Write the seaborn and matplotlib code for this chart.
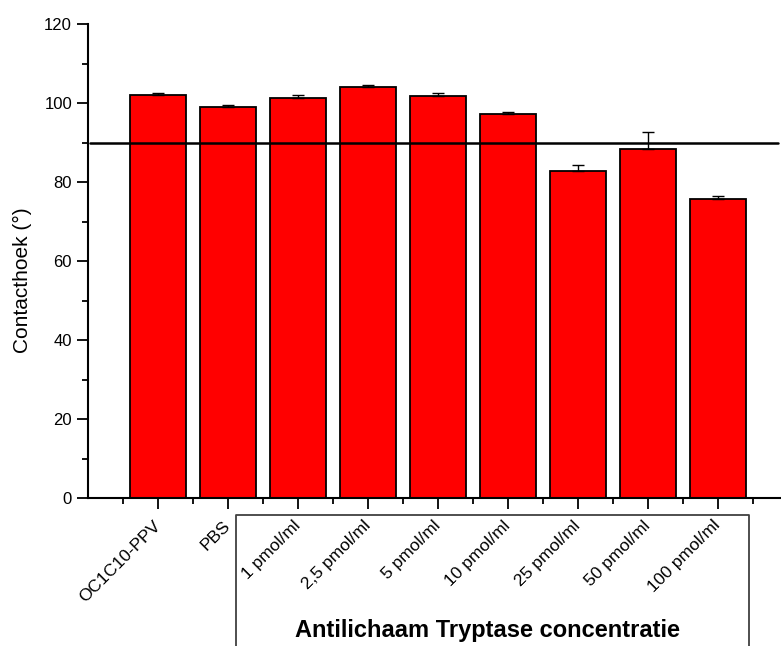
import numpy as np
import pandas as pd
import matplotlib
matplotlib.use("Agg")
import matplotlib.pyplot as plt
import seaborn as sns
from matplotlib.ticker import MultipleLocator

# data
labels = ["OC1C10-PPV", "PBS", "1 pmol/ml", "2,5 pmol/ml", "5 pmol/ml",
          "10 pmol/ml", "25 pmol/ml", "50 pmol/ml", "100 pmol/ml"]
hoek = [102.0, 98.9, 101.3, 104.0, 101.7, 97.1, 82.9, 88.4, 75.7]
fout = [0.6, 0.7, 0.7, 0.6, 0.8, 0.7, 1.4, 4.3, 0.8]
grens = 90

df = pd.DataFrame({"groep": labels, "hoek": hoek})

sns.set_style("ticks")
plt.rcParams["font.family"] = ["Liberation Sans", "DejaVu Sans"]
plt.rcParams["text.color"] = "black"
plt.rcParams["axes.labelcolor"] = "black"

fig = plt.figure(figsize=(7.81, 6.46), dpi=100)
ax = fig.add_axes([88 / 781, 148 / 646, 700 / 781, 474 / 646])

sns.barplot(data=df, x="groep", y="hoek", color="#ff0000", saturation=1,
            width=0.81, edgecolor="black", linewidth=1.3, ax=ax)
ax.errorbar(np.arange(len(hoek)), hoek, yerr=[np.zeros(len(fout)), fout],
            fmt="none", ecolor="black", elinewidth=1.0, capsize=4.5, capthick=1.0)

ax.axhline(grens, xmin=0.003, xmax=0.986, color="black", lw=1.8)

ax.set_xlim(-1, 9)
ax.set_ylim(0, 120)
ax.yaxis.set_major_locator(MultipleLocator(20))
ax.yaxis.set_minor_locator(MultipleLocator(10))
ax.set_xticks(range(len(labels)))
ax.set_xticks(np.arange(-0.5, 9, 1), minor=True)
ax.set_xticklabels(labels, rotation=45, ha="right", va="center",
                   rotation_mode="anchor", fontsize=12.5)
ax.tick_params(axis="both", which="major", length=8, width=1.3,
               labelsize=12, color="black", labelcolor="black")
ax.tick_params(axis="x", which="major", labelsize=12.5, pad=10)
ax.tick_params(axis="both", which="minor", length=4, width=1.3, color="black")

ax.set_xlabel("")
ax.set_ylabel("Contacthoek (°)", fontsize=15, va="center", color="black")
ax.yaxis.set_label_coords(-0.094, 0.46)
sns.despine(ax=ax)
for s in ["left", "bottom"]:
    ax.spines[s].set_linewidth(1.5)
    ax.spines[s].set_color("black")

# bracket for the antibody concentrations
xl, xr, yt, yb = 1.114, 8.443, -4.3, -60
ax.plot([xl, xl, xr, xr], [yb, yt, yt, yb], color="#404040", lw=1.3,
        clip_on=False)
fig.text(488 / 781, 1 - 631 / 646, "Antilichaam Tryptase concentratie",
         ha="center", va="center", fontsize=17, fontweight="bold",
         color="black")

fig.savefig("out.png", dpi=100)
